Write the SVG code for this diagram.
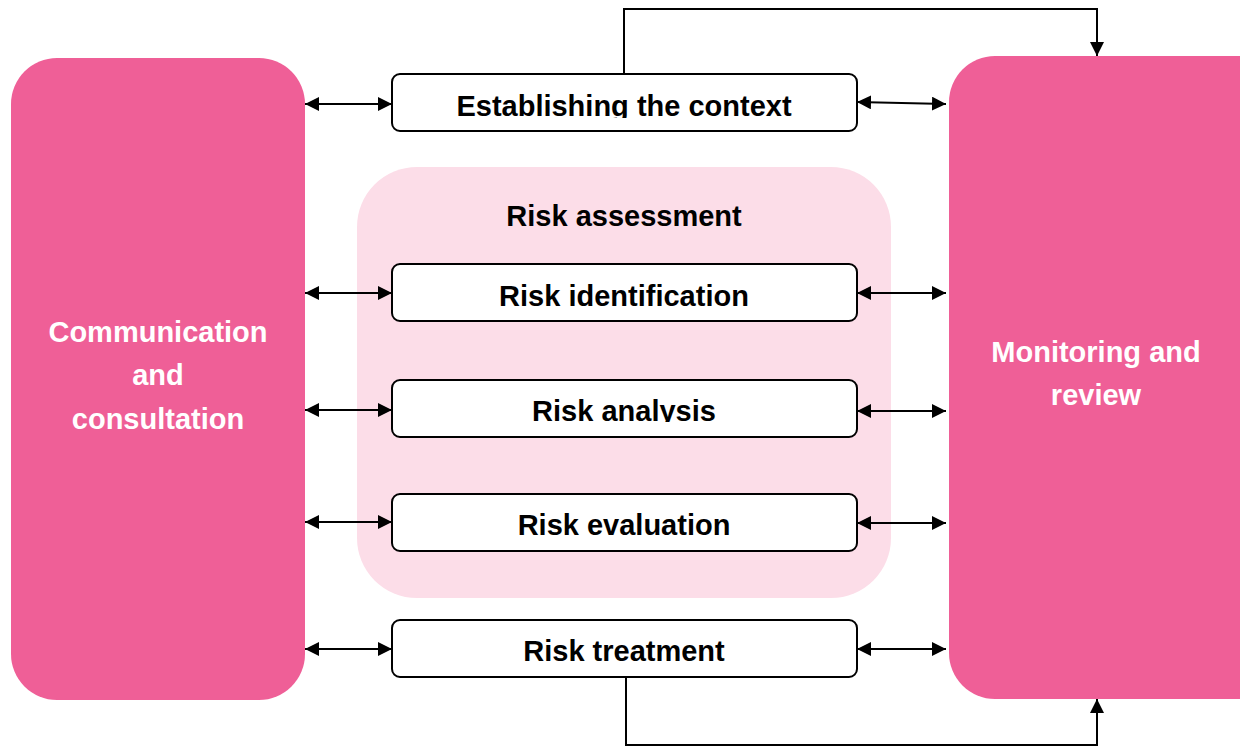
<svg xmlns="http://www.w3.org/2000/svg" width="1240" height="747" viewBox="0 0 1240 747">
<defs>
<style>
.big{fill:#EF5F97}
.box{fill:#fff;stroke:#000;stroke-width:2}
.t{font-family:"Liberation Sans",Arial,sans-serif;font-weight:bold;font-size:29px;text-anchor:middle;fill:#000}
.w{fill:#fff}
.ln{fill:none;stroke:#000;stroke-width:2}
</style>
<marker id="ah" viewBox="0 0 14 14" refX="14" refY="7" markerWidth="14" markerHeight="14" markerUnits="userSpaceOnUse" orient="auto-start-reverse">
<path d="M0,0 L14,7 L0,14 Z" fill="#000"/>
</marker>
<clipPath id="c1"><rect x="392" y="74" width="465" height="44"/></clipPath>
<clipPath id="c2"><rect x="392" y="380" width="465" height="42"/></clipPath>
</defs>
<rect width="1240" height="747" fill="#fff"/>
<g id="assessment">
<rect x="357" y="167" width="534" height="431" rx="60" fill="#FCDDE8"/>
<text class="t" x="624" y="226">Risk assessment</text>
</g>
<g id="communication">
<rect class="big" x="11" y="58" width="294" height="642" rx="46"/>
<text class="t w" x="158" y="342">Communication</text>
<text class="t w" x="158" y="385">and</text>
<text class="t w" x="158" y="429">consultation</text>
</g>
<g id="monitoring">
<rect class="big" x="949" y="56" width="340" height="643" rx="46"/>
<text class="t w" x="1096" y="362">Monitoring and</text>
<text class="t w" x="1096" y="405">review</text>
</g>
<g id="context">
<rect class="box" x="392" y="74" width="465" height="57" rx="8"/>
<text class="t" x="624" y="116" clip-path="url(#c1)">Establishing the context</text>
</g>
<g id="identification">
<rect class="box" x="392" y="264" width="465" height="57" rx="8"/>
<text class="t" x="624" y="306">Risk identification</text>
</g>
<g id="analysis">
<rect class="box" x="392" y="380" width="465" height="57" rx="8"/>
<text class="t" x="624" y="421" clip-path="url(#c2)">Risk analysis</text>
</g>
<g id="evaluation">
<rect class="box" x="392" y="494" width="465" height="57" rx="8"/>
<text class="t" x="624" y="535">Risk evaluation</text>
</g>
<g id="treatment">
<rect class="box" x="392" y="620" width="465" height="57" rx="8"/>
<text class="t" x="624" y="661">Risk treatment</text>
</g>
<g id="connectors">
<line class="ln" x1="305" y1="104" x2="392" y2="104" marker-start="url(#ah)" marker-end="url(#ah)"/>
<line class="ln" x1="305" y1="293" x2="392" y2="293" marker-start="url(#ah)" marker-end="url(#ah)"/>
<line class="ln" x1="305" y1="410" x2="392" y2="410" marker-start="url(#ah)" marker-end="url(#ah)"/>
<line class="ln" x1="305" y1="522" x2="392" y2="522" marker-start="url(#ah)" marker-end="url(#ah)"/>
<line class="ln" x1="305" y1="649" x2="392" y2="649" marker-start="url(#ah)" marker-end="url(#ah)"/>
<line class="ln" x1="857" y1="102" x2="946" y2="104" marker-start="url(#ah)" marker-end="url(#ah)"/>
<line class="ln" x1="857" y1="293" x2="946" y2="293" marker-start="url(#ah)" marker-end="url(#ah)"/>
<line class="ln" x1="857" y1="411" x2="946" y2="411" marker-start="url(#ah)" marker-end="url(#ah)"/>
<line class="ln" x1="857" y1="523" x2="946" y2="523" marker-start="url(#ah)" marker-end="url(#ah)"/>
<line class="ln" x1="857" y1="649" x2="946" y2="649" marker-start="url(#ah)" marker-end="url(#ah)"/>
<path class="ln" d="M624,74 V9 H1097 V56" marker-end="url(#ah)"/>
<path class="ln" d="M626,677 V745 H1097 V699" marker-end="url(#ah)"/>
</g>
</svg>
